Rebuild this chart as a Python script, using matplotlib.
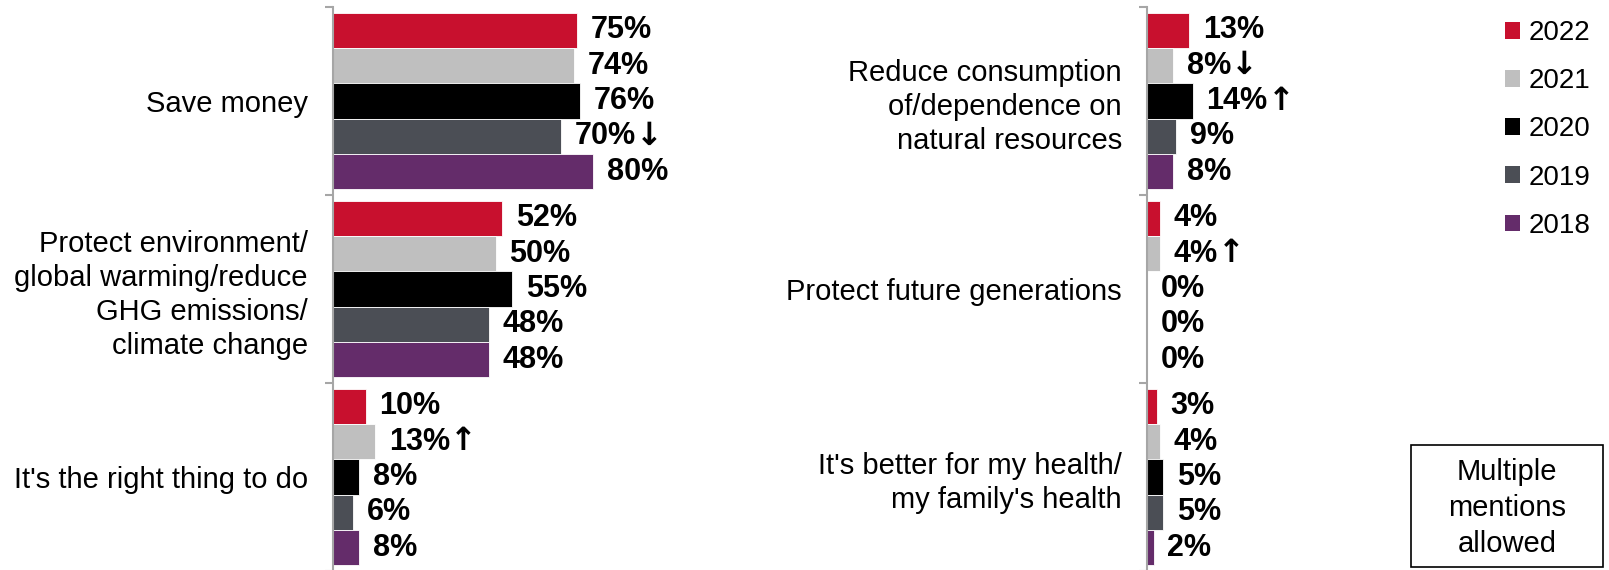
import matplotlib.pyplot as plt
from matplotlib.patches import Patch, Rectangle

plt.rcParams['font.family'] = ['Liberation Sans', 'DejaVu Sans']

W, H = 1609, 570

years = ["2022", "2021", "2020", "2019", "2018"]
colors = ["#C8102E", "#BFBFBF", "#000000", "#4B4E55", "#642C6A"]

left_categories = [
    "Save money",
    "Protect environment/\nglobal warming/reduce\nGHG emissions/\nclimate change",
    "It's the right thing to do",
]
left_values = [[75, 74, 76, 70, 80], [52, 50, 55, 48, 48], [10, 13, 8, 6, 8]]
left_marks = [["", "", "", "↓", ""], ["", "", "", "", ""], ["", "↑", "", "", ""]]

right_categories = [
    "Reduce consumption\nof/dependence on\nnatural resources",
    "Protect future generations",
    "It's better for my health/\nmy family's health",
]
right_values = [[13, 8, 14, 9, 8], [4, 4, 0, 0, 0], [3, 4, 5, 5, 2]]
right_marks = [["", "↓", "↑", "", ""], ["", "↑", "", "", ""], ["", "", "", "", ""]]

FS = 20
GRAY = "#A6A6A6"


def draw_panel(ax, categories, values, marks):
    n_years = len(years)
    bar_h = 0.94 / n_years
    for i, year in enumerate(years):
        offset = -0.47 + bar_h * (i + 0.5)
        ys = [k + offset for k in range(len(categories))]
        vals = [row[i] for row in values]
        ax.barh(ys, vals, height=bar_h, color=colors[i],
                edgecolor="white", linewidth=0.6)
        for y, v, row_marks in zip(ys, vals, marks):
            txt = ax.annotate(f"{v}%", (v, y), xytext=(10, 0),
                              textcoords="offset points", ha="left",
                              va="center", fontsize=22, fontweight="bold")
            if row_marks[i]:
                # trend arrow drawn right after the value label
                ax.annotate(row_marks[i], xy=(1, 0.5), xycoords=txt,
                            ha="left", va="center", fontsize=23,
                            fontweight="bold", family="DejaVu Sans")

    ax.set_xlim(0, 100)
    ax.set_ylim(len(categories) - 0.5, -0.5)
    ax.xaxis.set_visible(False)
    for side in ("top", "right", "bottom"):
        ax.spines[side].set_visible(False)
    ax.spines["left"].set_color(GRAY)
    ax.spines["left"].set_linewidth(1.5)

    ax.set_yticks([k - 0.5 for k in range(len(categories) + 1)])
    ax.set_yticklabels([])
    ax.tick_params(axis="y", which="major", length=6, width=1.5, color=GRAY)
    ax.set_yticks(range(len(categories)), categories, minor=True)
    ax.tick_params(axis="y", which="minor", length=0, pad=18, labelsize=21)
    for lbl in ax.get_yticklabels(minor=True):
        lbl.set_horizontalalignment("right")
        lbl.set_multialignment("right")
        lbl.set_linespacing(1.27)


fig = plt.figure(figsize=(W / 100, H / 100), dpi=100)

ax_left = fig.add_axes([333 / W, -1 / H, 325 / W, 564 / H])
draw_panel(ax_left, left_categories, left_values, left_marks)

ax_right = fig.add_axes([1147 / W, -1 / H, 325 / W, 564 / H])
draw_panel(ax_right, right_categories, right_values, right_marks)

handles = [Patch(facecolor=c, label=y) for c, y in zip(colors, years)]
fig.legend(handles=handles, loc="upper left",
           bbox_to_anchor=(1505 / W, 1 - 20 / H), frameon=False,
           fontsize=FS, handlelength=0.55, handleheight=0.55,
           handletextpad=0.3, labelspacing=0.80, borderpad=0,
           borderaxespad=0)

# "Multiple mentions allowed" box
fig.add_artist(Rectangle((1411 / W, 3 / H), 192 / W, 122 / H,
                         transform=fig.transFigure, fill=False,
                         edgecolor="black", linewidth=1.2))
fig.text(1507 / W, 62 / H, "Multiple\nmentions\nallowed", ha="center",
         va="center", fontsize=21, linespacing=1.35)

fig.savefig("out.png", dpi=100)
